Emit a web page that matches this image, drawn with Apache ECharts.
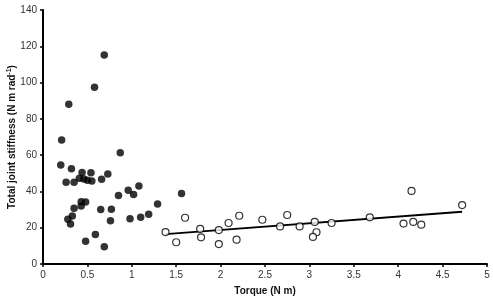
<!DOCTYPE html>
<html>
<head>
<meta charset="utf-8">
<script src="https://cdn.jsdelivr.net/npm/echarts@6/dist/echarts.min.js"></script>
<style>
  html, body { margin: 0; padding: 0; background: #fff; }
  #main { width: 493px; height: 303px; }
</style>
</head>
<body>
<div id="main"></div>
<script>
// 实心点：小扭矩组
var filledPoints = [
  [0.69, 115.2], [0.58, 97.4], [0.29, 88.1], [0.21, 68.3], [0.87, 61.3],
  [0.20, 54.5], [0.32, 52.5], [0.44, 50.5], [0.54, 50.3], [0.73, 49.6],
  [0.41, 47.3], [0.46, 46.9], [0.50, 46.1], [0.55, 45.7], [0.66, 46.7],
  [0.26, 45.0], [0.35, 45.0], [1.08, 43.0], [0.96, 40.6], [1.02, 38.3],
  [0.85, 37.8], [0.43, 34.3], [0.48, 34.2], [0.43, 32.0], [0.35, 30.7],
  [0.65, 30.0], [0.77, 30.2], [1.29, 33.1], [1.19, 27.4], [1.10, 25.7],
  [0.98, 25.0], [0.76, 23.9], [0.33, 26.4], [0.28, 24.6], [0.31, 22.1],
  [0.59, 16.2], [0.48, 12.6], [0.69, 9.5], [1.56, 38.8]
];
// 空心点：大扭矩组
var openPoints = [
  [1.38, 17.6], [1.50, 12.0], [1.60, 25.5], [1.77, 19.4], [1.78, 14.7],
  [1.98, 18.7], [1.98, 11.0], [2.09, 22.6], [2.21, 26.6], [2.18, 13.4],
  [2.47, 24.4], [2.67, 20.7], [2.75, 27.0], [2.89, 20.7], [3.06, 23.2],
  [3.08, 17.5], [3.04, 14.9], [3.25, 22.6], [3.68, 25.7], [4.15, 40.3],
  [4.06, 22.3], [4.17, 23.2], [4.26, 21.7], [4.72, 32.5]
];
// 回归线两端
var fitLine = [[1.38, 16.5], [4.72, 28.8]];

var chart = echarts.init(document.getElementById("main"));
chart.setOption({
  animation: false,
  backgroundColor: "#fff",
  textStyle: { fontFamily: "Liberation Sans, Arial, sans-serif" },
  grid: { left: 43, right: 6, top: 10, bottom: 39, outerBoundsMode: "none", containLabel: false },
  xAxis: {
    type: "value",
    min: 0,
    max: 5,
    interval: 0.5,
    name: "Torque (N m)",
    nameLocation: "middle",
    nameGap: 22,
    nameMoveOverlap: false,
    nameTextStyle: { fontSize: 10, fontWeight: "bold", color: "#111" },
    axisLine: { lineStyle: { color: "#000", width: 2 } },
    axisTick: { inside: false, length: 3, lineStyle: { color: "#000", width: 1.5 } },
    axisLabel: { fontSize: 10, color: "#333", margin: 6 },
    splitLine: { show: false }
  },
  yAxis: {
    type: "value",
    min: 0,
    max: 140,
    interval: 20,
    name: "{a|Total joint stiffness (N m rad}{s|-1}{a|)}",
    nameLocation: "middle",
    nameGap: 25,
    nameMoveOverlap: false,
    nameTextStyle: {
      rich: {
        a: { fontSize: 10, fontWeight: "bold", color: "#111" },
        s: { fontSize: 7, fontWeight: "bold", color: "#111", verticalAlign: "top", padding: [0, 0, 5, 0] }
      }
    },
    axisLine: { show: true, lineStyle: { color: "#000", width: 2 } },
    axisTick: { show: true, length: 3, lineStyle: { color: "#000", width: 1.5 } },
    axisLabel: { fontSize: 10, color: "#333", margin: 6 },
    splitLine: { show: false }
  },
  series: [
    {
      type: "scatter",
      data: filledPoints,
      symbolSize: 7.5,
      itemStyle: { color: "#000" }
    },
    {
      type: "scatter",
      data: openPoints,
      symbolSize: 7,
      itemStyle: { color: "#fff", borderColor: "#000", borderWidth: 1.2 }
    },
    {
      type: "line",
      data: fitLine,
      symbol: "none",
      lineStyle: { color: "#000", width: 1.8 },
      z: 1
    }
  ]
});
</script>
</body>
</html>
